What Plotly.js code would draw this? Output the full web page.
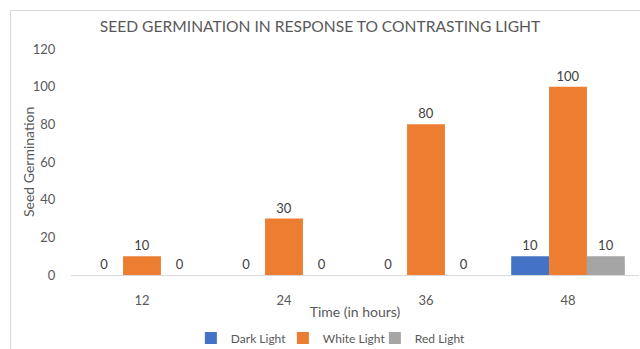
<!DOCTYPE html>
<html>
<head>
<meta charset="utf-8">
<script src="https://cdn.plot.ly/plotly-3.0.1.min.js"></script>
<style>
html,body{margin:0;padding:0;background:#fff;overflow:hidden;}
#frame{position:absolute;left:10px;top:10px;width:640px;height:349px;border-left:1px solid #d9d9d9;border-top:1px solid #d9d9d9;}
#chart{position:absolute;left:0;top:0;width:640px;height:349px;}
</style>
</head>
<body>
<div id="frame"></div>
<div id="chart"></div>
<script>
const categories = ['12', '24', '36', '48'];
const darkLight = [0, 0, 0, 10];
const whiteLight = [10, 30, 80, 100];
const redLight = [0, 0, 0, 10];
const seriesNames = ['Dark Light', 'White Light', 'Red Light'];
const colors = ['#4472C4', '#ED7D31', '#A5A5A5'];
const yTicks = [0, 20, 40, 60, 80, 100, 120];

const FONT = 'Lato, "Open Sans", sans-serif';
const TXT = '#595959';

const data = [darkLight, whiteLight, redLight].map((vals, i) => ({
  type: 'bar',
  name: seriesNames[i],
  x: categories,
  y: vals,
  marker: {color: colors[i]},
  text: vals.map(String),
  textposition: 'outside',
  textfont: {family: FONT, size: 13, color: '#404040'},
  cliponaxis: false,
  hoverinfo: 'none'
}));

const layout = {
  width: 640, height: 349,
  margin: {l: 71, r: 1, t: 49, b: 74, autoexpand: false},
  paper_bgcolor: 'rgba(0,0,0,0)',
  plot_bgcolor: 'rgba(0,0,0,0)',
  barmode: 'group',
  bargap: 0.2,
  bargroupgap: 0,
  font: {family: FONT, color: TXT},
  title: {text: 'SEED GERMINATION IN RESPONSE TO CONTRASTING LIGHT', font: {family: FONT, size: 15.6, color: TXT}, x: 0.5, xref: 'container', xanchor: 'center', y: 0.923, yanchor: 'middle'},
  xaxis: {
    type: 'category',
    automargin: false,
    tickfont: {family: FONT, size: 13, color: TXT},
    ticks: 'outside', ticklen: 13, tickcolor: 'rgba(0,0,0,0)',
    showline: true, linecolor: '#d9d9d9', linewidth: 1,
    title: {text: 'Time (in hours)', font: {family: FONT, size: 14, color: TXT}, standoff: 0}
  },
  yaxis: {
    range: [0, 120],
    automargin: false,
    tickvals: yTicks,
    ticktext: yTicks.map(String),
    showgrid: false,
    zeroline: false,
    showline: false,
    tickfont: {family: FONT, size: 13, color: TXT},
    ticks: 'outside', ticklen: 12, tickcolor: 'rgba(0,0,0,0)'
  },
  annotations: [{
    text: 'Seed Germination', textangle: -90,
    xref: 'paper', yref: 'paper', x: -43 / 568, y: 0.5,
    xanchor: 'center', yanchor: 'middle', showarrow: false,
    font: {family: FONT, size: 14, color: TXT}
  }],
  showlegend: true,
  legend: {orientation: 'h', x: 0.454, xanchor: 'center', y: -63 / 226, yanchor: 'middle', font: {family: FONT, size: 12, color: TXT}, itemwidth: 30, entrywidth: 47, entrywidthmode: 'pixels', traceorder: 'normal'}
};

Plotly.newPlot('chart', data, layout, {staticPlot: true});
</script>
</body>
</html>
